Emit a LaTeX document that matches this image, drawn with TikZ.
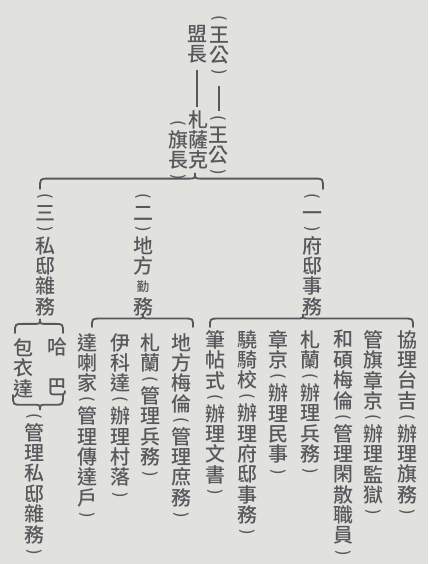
\documentclass[tikz,border=0pt]{standalone}
\usepackage{fontspec}
\usepackage{graphicx}
\newfontfamily\cjk{Noto Sans CJK TC}[UprightFont=* Medium]
\usetikzlibrary{positioning,calc}
\definecolor{paper}{RGB}{225,226,221}
\definecolor{inkgray}{RGB}{88,88,92}

% vertical brackets inside a column
\newcommand\lp{\raisebox{2pt}{\fontsize{11}{11}\selectfont\rotatebox[origin=c]{-90}{(}}}
\newcommand\rp{\raisebox{2pt}{\fontsize{11}{11}\selectfont\rotatebox[origin=c]{-90}{)}}}
\newcommand\po{\\[-2.8pt]\lp\\[-2.8pt]}
\newcommand\pcm{\\[-2.8pt]\rp\\[-2.8pt]}
\newcommand\pc{\\[-2pt]\rp}

% group brace: left end, tip, right end
\newcommand\grp[4][]{%
  \draw[brc,#1] let \p1=(#2), \p2=(#3), \p3=(#4), \p4=($(#2)!.65!(#3)$) in
    (\p1) .. controls (\x1,\y4) .. (\x1+6pt,\y4) -- (\x2-5pt,\y4)
    .. controls (\x2,\y4) .. (\p2) .. controls (\x2,\y4) .. (\x2+5pt,\y4)
    -- (\x3-6pt,\y4) .. controls (\x3,\y4) .. (\x3,\y1);}

\begin{document}
\begin{tikzpicture}[x=0.025cm, y=-0.025cm,
    col/.style={font=\cjk\fontsize{14.2}{14.5}\selectfont, text=inkgray, align=center, inner sep=0pt, anchor=north},
    brc/.style={draw=inkgray, line width=1.3pt, line cap=round},
    link/.style={draw=inkgray, line width=1pt}
]
\useasboundingbox (0,0) rectangle (428,564);
\fill[paper] (0,0) rectangle (428,564);

% === Top: league head and banner head ===
\node[col] (wg1) at (219,15) {\lp\\[-2.8pt]王\\公\pc};
\node[col] (mz) at (197,25) {盟\\長};
\node[col] (wg2) at (218,115) {\lp\\[-2.8pt]王\\公\pc};
\node[col] (zsk) at (198,110) {札\\薩\\克};
\node[col] (qz) at (178,120) {\lp\\[-2.8pt]旗\\長\pc};

\draw[link, shorten <=4pt, shorten >=2pt] (mz.south) -- (mz.south |- zsk.north);
\draw[link, shorten <=4pt, shorten >=3pt] (wg1.south) -- (wg1.south |- wg2.north);

% === Second level: three branches ===
\node[col] (sanxi) at (45,193) {\lp\\[-2.8pt]三\pcm 私\\邸\\雜\\務};
\node[col] (erdi) at (143,193) {\lp\\[-2.8pt]二\pcm 地\\方\\\raisebox{1.5pt}{\fontsize{9}{9}\selectfont 勤}\\務};
\node[col] (yifu) at (312,193) {\lp\\[-2.8pt]一\pcm 府\\邸\\事\\務};

% === Third level: (一) residence affairs ===
\node[col] (xieli) at (407,330) {協\\理\\台\\吉\po 辦\\理\\旗\\務\pc};
\node[col] (guanqi) at (373,330) {管\\旗\\章\\京\po 辦\\理\\監\\獄\pc};
\node[col] (heshuo) at (343,330) {和\\碩\\梅\\倫\po 管\\理\\閑\\散\\職\\員\pc};
\node[col] (zhalan1) at (310,330) {札\\蘭\po 辦\\理\\兵\\務\pc};
\node[col] (zhangjing) at (278,330) {章\\京\po 辦\\理\\民\\事\pc};
\node[col] (xiaoqi) at (247,330) {驍\\騎\\校\po 辦\\理\\府\\邸\\事\\務\pc};
\node[col] (bitieshi) at (215,330) {筆\\帖\\式\po 辦\\理\\文\\書\pc};

% === Third level: (二) local affairs ===
\node[col] (difang) at (181,333) {地\\方\\梅\\倫\po 管\\理\\庶\\務\pc};
\node[col] (zhalan2) at (150,333) {札\\蘭\po 管\\理\\兵\\務\pc};
\node[col] (yikeda) at (120,333) {伊\\科\\達\po 辦\\理\\村\\落\pc};
\node[col] (dalajia) at (87,333) {達\\喇\\家\po 管\\理\\傳\\達\\戶\pc};

% === Third level: (三) private affairs ===
\node[col] (haba) at (57,337) {哈\\[14.5pt]巴};
\node[col] (baoyida) at (23,338) {包\\衣\\達};
\node[col] (guanli) at (34,413) {\lp\\[-2.8pt]管\\理\\私\\邸\\雜\\務\pc};

% === Braces ===
\coordinate (t0l) at ($(sanxi.north)+(-5,-4)$);
\coordinate (t0) at ($(zsk.north)+(-3,63)$);
\coordinate (t0r) at ($(yifu.north)+(11,-4)$);
\grp{t0l}{t0}{t0r}

\coordinate (t1l) at ($(bitieshi.north)+(-5,-3)$);
\coordinate (t1) at ($(yifu.north)+(-9,121)$);
\coordinate (t1r) at ($(xieli.north)+(6,-3)$);
\grp{t1l}{t1}{t1r}

\coordinate (t2l) at ($(dalajia.north)+(5,-6)$);
\coordinate (t2) at ($(erdi.north)+(0,121)$);
\coordinate (t2r) at ($(difang.north)+(12,-6)$);
\grp{t2l}{t2}{t2r}

\coordinate (t3l) at ($(baoyida.north)+(-8,-5)$);
\coordinate (t3) at ($(sanxi.north)+(-5,126)$);
\coordinate (t3r) at ($(haba.north)+(6,-4)$);
\grp{t3l}{t3}{t3r}

\coordinate (b3l) at ($(baoyida.north)+(-10,57)$);
\coordinate (b3) at ($(guanli.north)+(6,-3)$);
\coordinate (b3r) at ($(haba.north)+(6,58)$);
\grp{b3l}{b3}{b3r}

\end{tikzpicture}
\end{document}
